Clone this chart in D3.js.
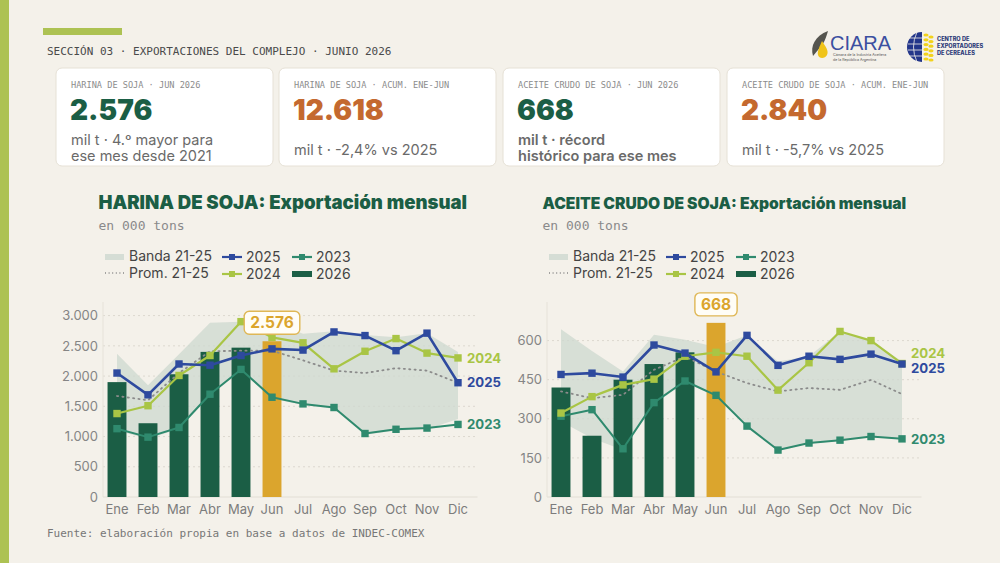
<!DOCTYPE html>
<html><head><meta charset="utf-8">
<script src="https://cdn.jsdelivr.net/npm/d3@7"></script>
<style>
html,body{margin:0;padding:0;background:#f4f1ea;}
svg{display:block;}
</style></head>
<body>
<svg id="c" width="1000" height="563"></svg>
<script>
// ---------- DATA ----------
const months = ["Ene","Feb","Mar","Abr","May","Jun","Jul","Ago","Sep","Oct","Nov","Dic"];

const harina2026 = [1900,1220,2030,2400,2470,2576];
const harina2025 = [2050,1690,2200,2180,2340,2450,2430,2730,2670,2420,2710,1890];
const harina2024 = [1380,1510,2010,2340,2900,2640,2550,2120,2410,2620,2380,2300];
const harina2023 = [1130,990,1150,1700,2110,1650,1540,1480,1050,1120,1140,1200];
const harinaProm = [1670,1600,2050,2410,2420,2420,2260,2090,2050,2130,2090,1890];
const harinaBandHi = [2370,1850,2360,2880,2900,2900,2700,2740,2680,2640,2710,2400];
const harinaBandLo = [1100,960,1130,1680,2090,1630,1520,1460,1030,1100,1120,1290];
const harinaTicks = [0,500,1000,1500,2000,2500,3000];

const aceite2026 = [420,235,450,510,555,668];
const aceite2025 = [470,475,460,583,552,480,620,505,540,528,548,510];
const aceite2024 = [322,385,430,452,540,555,540,410,515,635,600,512];
const aceite2023 = [310,335,185,362,445,390,272,180,207,218,232,223];
const aceiteProm = [405,379,392,488,539,481,437,405,418,411,449,395];
const aceiteBandHi = [643,560,481,622,603,575,620,520,540,635,600,520];
const aceiteBandLo = [290,225,180,355,440,385,270,178,205,215,230,222];
const aceiteTicks = [0,150,300,450,600];

const kpiLabels = ["HARINA DE SOJA · JUN 2026","HARINA DE SOJA · ACUM. ENE-JUN","ACEITE CRUDO DE SOJA · JUN 2026","ACEITE CRUDO DE SOJA · ACUM. ENE-JUN"];
const kpiValues = ["2.576","12.618","668","2.840"];
const kpiNotes = [["mil t · 4.º mayor para","ese mes desde 2021"],["mil t · -2,4% vs 2025"],["mil t · récord","histórico para ese mes"],["mil t · -5,7% vs 2025"]];

// ---------- STYLE ----------
const C = {
  bg:"#f4f1ea", dark:"#1b5e45", orange:"#c4692f", gold:"#dba52d",
  blue:"#2e4a9e", lime:"#a9c545", teal:"#2f8a6e", band:"#cdd8cf",
  grid:"#dcd8cf", text:"#444", mute:"#808080", stripe:"#adc253"
};
const mono = "'DejaVu Sans Mono', monospace";
const sans = "Inter, 'Noto Sans', sans-serif";

const svg = d3.select("#c");
svg.append("rect").attr("width",1000).attr("height",563).attr("fill",C.bg);
svg.append("rect").attr("x",0).attr("y",0).attr("width",9).attr("height",563).attr("fill",C.stripe);
svg.append("rect").attr("x",43).attr("y",28).attr("width",79).attr("height",7).attr("fill",C.stripe);
svg.append("text").attr("x",47).attr("y",55).attr("font-family",mono).attr("font-size",11)
  .attr("fill","#4a4a4a").text("SECCIÓN 03 · EXPORTACIONES DEL COMPLEJO · JUNIO 2026");

// ---------- LOGOS ----------
const lg = svg.append("g");
lg.append("path").attr("d","M813,56 C810,46 815,36 828,31 C826,38 824,44 818,50 Z").attr("fill","#55554f");
lg.append("path").attr("d","M822,41 C826,47 829,51 827,55 C825,59 819,59 818,55 C817,51 820,46 822,41 Z").attr("fill","#f0c419");
lg.append("text").attr("x",830).attr("y",50).attr("font-family","'Liberation Sans', Arial, sans-serif")
  .attr("font-size",20).attr("fill","#3b4fa0").text("CIARA");
lg.append("text").attr("x",833).attr("y",56).attr("font-family",sans).attr("font-size",3.6).attr("fill","#555").text("Cámara de la Industria Aceitera");
lg.append("text").attr("x",833).attr("y",61).attr("font-family",sans).attr("font-size",3.6).attr("fill","#555").text("de la República Argentina");
// CEC
lg.append("path").attr("d","M922,32 A15,15 0 0,0 922,62 Z").attr("fill","#23368a");
[38,44,50,56].forEach(y=>lg.append("line").attr("x1",908).attr("x2",922).attr("y1",y).attr("y2",y).attr("stroke","#f4f1ea").attr("stroke-width",0.8));
lg.append("path").attr("d","M917,32 Q910,47 917,62").attr("fill","none").attr("stroke","#f4f1ea").attr("stroke-width",0.8);
for(let i=0;i<6;i++){
  lg.append("ellipse").attr("cx",926).attr("cy",35+i*4.8).attr("rx",2.6).attr("ry",1.6).attr("fill","#f2d21b");
  lg.append("ellipse").attr("cx",931).attr("cy",37+i*4.6).attr("rx",2.6).attr("ry",1.6).attr("fill","#f2d21b");
}
["CENTRO DE","EXPORTADORES","DE CEREALES"].forEach((t,i)=>lg.append("text").attr("x",937).attr("y",41+i*7)
  .attr("font-family",sans).attr("font-weight",800).attr("font-size",5.6).attr("fill","#2c3a78").text(t));

// ---------- KPI CARDS ----------
const cardX = [56,279,503,727];
kpiLabels.forEach((lab,i)=>{
  const g = svg.append("g").attr("transform",`translate(${cardX[i]},68)`);
  g.append("rect").attr("width",217).attr("height",98).attr("rx",6).attr("fill","#ffffff").attr("stroke","#e6e1d6");
  g.append("text").attr("x",15).attr("y",20).attr("font-family",mono).attr("font-size",8.6).attr("fill","#8c8c8c").text(lab);
  g.append("text").attr("x",14).attr("y",52).attr("font-family",sans).attr("font-weight",900).attr("font-size",28)
    .attr("fill", i%2===0?C.dark:C.orange).text(kpiValues[i]);
  const notes = kpiNotes[i];
  const ys = notes.length===2?[77,93]:[87];
  notes.forEach((t,j)=>g.append("text").attr("x",15).attr("y",ys[j]).attr("font-family",sans)
    .attr("font-size",14.5).attr("font-weight", i===2?600:400).attr("fill","#6a6a6a").text(t));
});

// ---------- CHART ----------
function fitWidth(sel, w){
  const cur = sel.node().getComputedTextLength();
  const fs = parseFloat(sel.attr("font-size"));
  sel.attr("font-size", fs*w/cur);
}

function chart(opt){
  const {x0,x1,title,titleW,bars,s25,s24,s23,prom,hi,lo,ticks,ymax,hlText} = opt;
  const g = svg.append("g");
  const yB = 497, yT = 302;
  const x = d3.scaleBand().domain(months).range([x0,x1]).paddingInner(0.39).paddingOuter(0.195);
  const cx = m => x(m)+x.bandwidth()/2;
  const y = d3.scaleLinear().domain([0,ymax]).range([yB,yT]);
  const tx = x0-3;

  // title
  const t = g.append("text").attr("x",tx).attr("y",209).attr("font-family",sans).attr("font-weight",900)
    .attr("font-size",16).attr("fill",C.dark).text(title);
  fitWidth(t,titleW);
  g.append("text").attr("x",tx).attr("y",230).attr("font-family",mono).attr("font-size",13).attr("fill","#8a8a8a").text("en 000 tons");

  // legend
  const L = g.append("g").attr("font-family",sans).attr("font-size",14).attr("fill","#444");
  const lx = x0+3.5;
  L.append("rect").attr("x",lx).attr("y",254).attr("width",19).attr("height",6).attr("fill",C.band).attr("opacity",0.8);
  L.append("text").attr("x",lx+24).attr("y",261).text("Banda 21-25");
  L.append("line").attr("x1",lx).attr("x2",lx+20).attr("y1",273).attr("y2",273).attr("stroke","#888")
    .attr("stroke-width",1.4).attr("stroke-dasharray","1,2.6");
  L.append("text").attr("x",lx+24).attr("y",278).text("Prom. 21-25");
  const leg = [[lx+117,257,C.blue,"2025","line"],[lx+187,257,C.teal,"2023","line"],[lx+117,274,C.lime,"2024","line"],[lx+187,274,C.dark,"2026","bar"]];
  leg.forEach(([a,b,col,txt,kind])=>{
    if(kind==="line"){
      L.append("line").attr("x1",a).attr("x2",a+20).attr("y1",b).attr("y2",b).attr("stroke",col).attr("stroke-width",2.2);
      L.append("rect").attr("x",a+7).attr("y",b-3).attr("width",6).attr("height",6).attr("fill",col);
    } else {
      L.append("rect").attr("x",a).attr("y",b-3).attr("width",20).attr("height",6).attr("fill",col);
    }
    L.append("text").attr("x",a+24).attr("y",b+4.5).text(txt);
  });

  // grid
  g.append("g").selectAll("line").data(ticks.filter(d=>d>0)).join("line")
    .attr("x1",x0+1.5).attr("x2",x1+4).attr("y1",d=>y(d)).attr("y2",d=>y(d))
    .attr("stroke",C.grid).attr("stroke-width",1).attr("stroke-dasharray","2,3");
  g.append("line").attr("x1",x0+1.5).attr("x2",x1+4).attr("y1",yB).attr("y2",yB).attr("stroke","#e2ded5");
  g.append("line").attr("x1",x0+1.5).attr("x2",x0+1.5).attr("y1",yT).attr("y2",yB).attr("stroke","#e6e2d9");

  // y axis
  const ya = g.append("g").attr("transform",`translate(${x0-3.5},0)`)
    .call(d3.axisLeft(y).tickValues(ticks).tickSize(0).tickPadding(0).tickFormat(d=>d3.format(",")(d).replace(/,/g,".")));
  ya.select(".domain").remove();
  ya.selectAll("text").attr("font-family",sans).attr("font-size",13).attr("fill","#858585");

  // x axis
  const xa = g.append("g").attr("transform",`translate(0,${yB})`).call(d3.axisBottom(x).tickSize(0).tickPadding(8));
  xa.select(".domain").remove();
  xa.selectAll("text").attr("font-family",sans).attr("font-size",13).attr("fill","#7c7c7c").attr("dy","0.71em");

  // band
  const area = d3.area().x((d,i)=>cx(months[i])).y0((d,i)=>y(lo[i])).y1(d=>y(d));
  g.append("path").datum(hi).attr("d",area).attr("fill",C.band).attr("opacity",0.75);

  // bars
  const last = bars.length-1;
  g.append("g").selectAll("rect").data(bars).join("rect")
    .attr("x",(d,i)=>x(months[i])).attr("width",x.bandwidth())
    .attr("y",d=>y(d)).attr("height",d=>yB-y(d))
    .attr("fill",(d,i)=>i===last?C.gold:C.dark);

  // prom
  const line = d3.line().x((d,i)=>cx(months[i])).y(d=>y(d));
  g.append("path").datum(prom).attr("d",line).attr("fill","none").attr("stroke","#8b8b8b")
    .attr("stroke-width",1.8).attr("stroke-dasharray","1.2,4.2").attr("stroke-linecap","round");

  // series
  const series = [[s23,C.teal,2],[s24,C.lime,2.2],[s25,C.blue,2.6]];
  series.forEach(([s,col,w])=>{
    g.append("path").datum(s).attr("d",line).attr("fill","none").attr("stroke",col).attr("stroke-width",w).attr("stroke-linejoin","round");
    g.append("g").selectAll("rect").data(s).join("rect")
      .attr("x",(d,i)=>cx(months[i])-3.7).attr("y",d=>y(d)-3.7).attr("width",7.4).attr("height",7.4).attr("fill",col);
  });

  // end labels with simple collision nudge
  const ends = [["2024",s24,C.lime],["2025",s25,C.blue],["2023",s23,C.teal]]
    .map(([t,s,c])=>({t,c,y:y(s[s.length-1])})).sort((a,b)=>a.y-b.y);
  const gap = 15.5;
  for(let i=1;i<ends.length;i++){
    if(ends[i].y-ends[i-1].y<gap){
      const mid=(ends[i].y+ends[i-1].y)/2-3;
      ends[i-1].y = mid-gap/2; ends[i].y = mid+gap/2;
    }
  }
  ends.forEach(e=>g.append("text").attr("x",cx("Dic")+9).attr("y",e.y).attr("dy","0.36em")
    .attr("font-family",sans).attr("font-weight",700).attr("font-size",13.2).attr("fill",e.c).text(e.t));

  // highlight label
  const hx = cx(months[last]), hy = y(bars[last])-7;
  const hg = g.append("g");
  const ht = hg.append("text").attr("x",hx).attr("y",hy-6).attr("text-anchor","middle")
    .attr("font-family",sans).attr("font-weight",700).attr("font-size",15.5).attr("fill",C.gold).text(hlText);
  const bw = ht.node().getComputedTextLength()+12;
  hg.insert("rect","text").attr("x",hx-bw/2).attr("y",hy-23).attr("width",bw).attr("height",23).attr("rx",5)
    .attr("fill","#fffdf6").attr("stroke","#dfb755").attr("stroke-width",1.4);
}

chart({x0:101.5,x1:473.5,title:"HARINA DE SOJA: Exportación mensual",titleW:369,
  bars:harina2026,s25:harina2025,s24:harina2024,s23:harina2023,prom:harinaProm,hi:harinaBandHi,lo:harinaBandLo,
  ticks:harinaTicks,ymax:3225,hlText:"2.576"});
chart({x0:545.5,x1:917.5,title:"ACEITE CRUDO DE SOJA: Exportación mensual",titleW:364,
  bars:aceite2026,s25:aceite2025,s24:aceite2024,s23:aceite2023,prom:aceiteProm,hi:aceiteBandHi,lo:aceiteBandLo,
  ticks:aceiteTicks,ymax:748,hlText:"668"});

svg.append("text").attr("x",47).attr("y",537).attr("font-family",mono).attr("font-size",11)
  .attr("fill","#777").text("Fuente: elaboración propia en base a datos de INDEC-COMEX");
</script>
</body></html>
